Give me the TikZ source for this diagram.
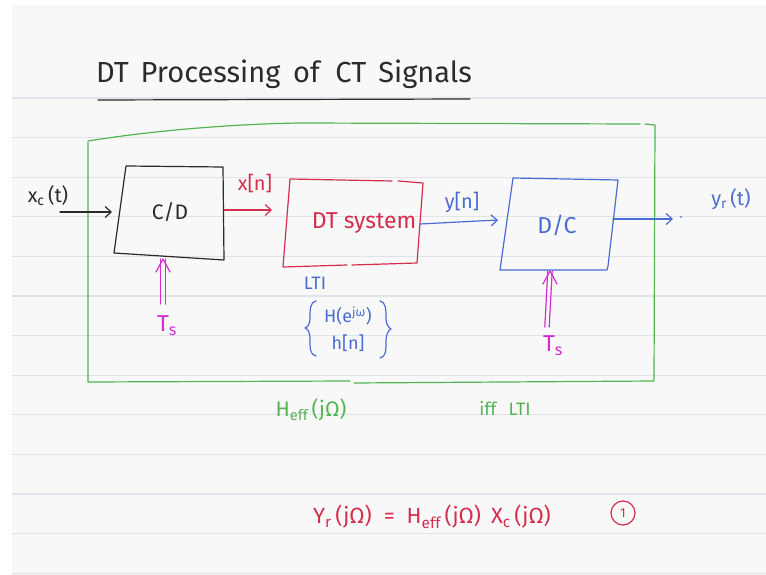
\documentclass[tikz,border=0pt]{standalone}
\usepackage{fontspec}
\setmainfont{Fira Sans}
\usetikzlibrary{arrows.meta}
\definecolor{paper}{HTML}{F8F8F8}
\definecolor{rulec}{HTML}{DFE4EA}
\definecolor{inkk}{HTML}{2B2B2B}
\definecolor{inkr}{HTML}{D42E4C}
\definecolor{inkb}{HTML}{4A6BD2}
\definecolor{inkg}{HTML}{52B552}
\definecolor{inkm}{HTML}{D22CD2}
\newcommand{\fsz}[1]{\fontsize{#1}{#1}\selectfont}
\begin{document}
\begin{tikzpicture}[x=1pt,y=-1pt,line cap=round,line join=round,
  pen/.style={line width=1.2pt},
  arr/.style={pen,-{Straight Barb[length=6pt,width=11pt,line width=1.2pt]}},
  tsline/.style={line width=1.2pt,draw=inkm},
  lbl/.style={inner sep=0pt,font=\fsz{20}},
  rulel/.style={draw=rulec,line width=1.3pt}]
\useasboundingbox (0,0) rectangle (766,575);
\fill[white] (0,0) rectangle (766,575);
\fill[paper] (12,5) rectangle (766,575);
\foreach \yy in {98,137.6,177.2,216.8,256.4,296,335.6,375.2,414.8,454.4,494,533.6,573.2}
  \draw[rulel] (12,\yy) -- (766,\yy);

% title
\node[inkk,inner sep=0pt,font=\fsz{29}] (title) at (284,74) {DT\hspace{12pt}Processing\hspace{5pt} of\hspace{8pt} CT\hspace{12pt}Signals};
\draw[inkk,pen] (98,100) -- (470,99);

% green enclosing box
\draw[inkg,pen] (88,141) .. controls (150,131) and (230,124) .. (300,123) -- (640,124);
\draw[inkg,pen] (645,124) -- (655,125) -- (654,380);
\draw[inkg,pen] (88,142) -- (88,382) -- (350,381);
\draw[inkg,pen] (354,383) -- (654,381);

% C/D box
\coordinate (cdtl) at (126,166); \coordinate (cdtr) at (223,167);
\coordinate (cdbr) at (224,260); \coordinate (cdbl) at (114,253);
\draw[inkk,pen] (cdtl) -- (cdtr) -- (cdbr) -- (cdbl) -- cycle;
\node[lbl,inkk,font=\fsz{21}] (cd) at (170,212) {C/D};
\coordinate (cdin) at (112,212);
\coordinate (cdout) at (224,210);
\coordinate (cdts) at (163,259);

% DT system box
\draw[inkr,pen] (392,181) -- (290,179) -- (283,267) -- (347,265);
\draw[inkr,pen] (398,181) -- (423,183) -- (417,263) -- (352,265);
\node[lbl,inkr,font=\fsz{23}] (dt) at (364,223) {DT system};
\coordinate (dtin) at (272,210);
\coordinate (dtout) at (420,224);

% D/C box
\draw[inkb,pen] (513,178) -- (618,180) -- (608,266) -- (607,270) -- (500,270) -- cycle;
\node[lbl,inkb,font=\fsz{23}] (dc) at (557,225) {D/C};
\coordinate (dcin) at (498,220);
\coordinate (dcout) at (613,219);
\coordinate (dcts) at (550,271);

% signals
\coordinate (xin) at (60,212);
\coordinate (yout) at (673,219);
\coordinate (tsa) at (163,304);
\coordinate (tsb) at (547,327);

\draw[inkk,arr] (xin) -- (cdin);
\draw[inkr,arr] (cdout) -- (dtin);
\draw[inkb,arr] (dtout) -- (dcin);
\draw[inkb,arr] (dcout) -- (yout);
\fill[inkb] (681,217) circle (1pt);
% sampling-period double arrows
\draw[tsline] ([xshift=-2.2pt]tsa) -- ([xshift=-2.2pt]cdts);
\draw[tsline] ([xshift=2.2pt]tsa) -- ([xshift=2.2pt]cdts);
\draw[tsline] ([shift={(-7pt,-13pt)}]cdts) -- (cdts) -- ([shift={(7pt,-13pt)}]cdts);
\draw[tsline] ([xshift=-2.2pt]tsb) -- ([xshift=-2.2pt]dcts);
\draw[tsline] ([xshift=2.2pt]tsb) -- ([xshift=2.2pt]dcts);
\draw[tsline] ([shift={(-7pt,-13pt)}]dcts) -- (dcts) -- ([shift={(7pt,-13pt)}]dcts);

% labels
\node[lbl,inkk] (lxc) at (48,196) {x\textsubscript{c}\,(t)};
\node[lbl,inkr] (lxn) at (255,183) {x[n]};
\node[lbl,inkb] (lyn) at (462,202) {y[n]};
\node[lbl,inkb] (lyr) at (731,199) {y\textsubscript{r}\,(t)};
\node[lbl,inkm,font=\fsz{23}] (lts1) at (167,326) {T\textsubscript{s}};
\node[lbl,inkm,font=\fsz{23}] (lts2) at (553,346) {T\textsubscript{s}};
\node[lbl,inkb,font=\fsz{18}] (llti) at (315,283) {LTI};
\node[lbl,inkb,font=\fsz{18}] (lhe) at (348,316) {H(e\textsuperscript{jω})};
\node[lbl,inkb,font=\fsz{18}] (lhn) at (348,343) {h[n]};
\draw[inkb,pen] (316,301) .. controls (310,302) and (310,310) .. (310,318)
  .. controls (310,324) and (308,327) .. (305,328)
  .. controls (308,329) and (310,332) .. (310,340)
  .. controls (310,348) and (310,355) .. (316,356);
\draw[inkb,pen] (380,301) .. controls (386,302) and (386,310) .. (386,318)
  .. controls (386,324) and (388,327) .. (391,329)
  .. controls (388,331) and (386,334) .. (386,342)
  .. controls (386,350) and (386,357) .. (380,358);
\node[lbl,inkg,font=\fsz{21}] (lheff) at (311,410) {H\textsubscript{eff}\,(jΩ)};
\node[lbl,inkg,font=\fsz{18}] (liff) at (505,408) {iff\hspace{12pt}LTI};
\node[lbl,inkr,font=\fsz{22}] (leq) at (432,517)
  {Y\textsubscript{r}\,(jΩ)\hspace{12pt}=\hspace{12pt}H\textsubscript{eff}\,(jΩ)\hspace{10pt}X\textsubscript{c}\,(jΩ)};
\node[inkr,draw,pen,circle,minimum size=24pt,inner sep=0pt,font=\fsz{13}] (lone) at (623,513) {1};
\end{tikzpicture}
\end{document}
